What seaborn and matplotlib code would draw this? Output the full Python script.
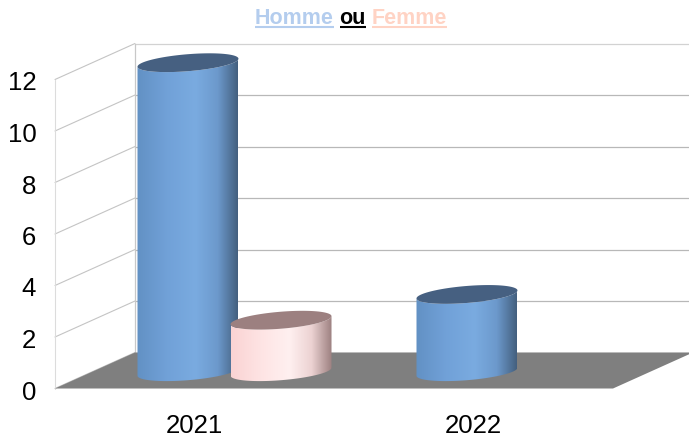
import numpy as np
import pandas as pd
import matplotlib
matplotlib.use('Agg')
import matplotlib.pyplot as plt
from matplotlib.colors import LinearSegmentedColormap
from matplotlib.lines import Line2D
from matplotlib.patches import Polygon
from matplotlib.transforms import ScaledTranslation
import seaborn as sns

years = ['2021', '2022']
homme = [12, 3]
femme = [2, 0]
y_ticks = [0, 2, 4, 6, 8, 10, 12]
title_words = ['Homme', 'ou', 'Femme']
title_colors = ['#b4cdee', '#000000', '#ffd3c4']

sns.set_theme(style='white')
plt.rcParams['font.family'] = ['Liberation Sans', 'DejaVu Sans']

W, H = 689, 441
fig = plt.figure(figsize=(W / 100, H / 100), dpi=100)
# l'axe correspond au plan avant du graphique 3D
ax = fig.add_axes([55 / W, (H - 388.5) / H, 558 / W, 309 / H])

df = pd.DataFrame({
    'annee': years * 2,
    'n': homme + femme,
    'sexe': ['Homme'] * 2 + ['Femme'] * 2,
})
sns.barplot(data=df, x='annee', y='n', hue='sexe', palette=['#7aabe0', '#fff0f0'],
            width=0.667, gap=-0.085, legend=False, ax=ax)

ax.set_xlim(-0.5, 1.5)
ax.set_ylim(0, 12)
px_x = 279.0   # pixels par categorie
px_y = 25.75   # pixels par unite
dx, dy = 80 / px_x, 36 / px_y

ax.set_xlabel('')
ax.set_ylabel('')
ax.set_yticks(y_ticks)
ax.tick_params(axis='x', length=0, pad=18.5, labelsize=18.5, colors='black')
ax.tick_params(axis='y', length=0, pad=13.5, labelsize=18.5, colors='black')
sns.despine(ax=ax, left=True, bottom=True)

x0, x1 = -0.5, 1.5
# parois et grille
for v in y_ticks:
    col = '#d2d2d2' if v == 12 else '#b8b8b8'
    ax.plot([x0, x0 + dx], [v, v + dy], color='#c4c4c4', lw=0.8, clip_on=False, zorder=1)
    ax.plot([x0 + dx, x1 + dx], [v + dy, v + dy], color=col, lw=0.9, clip_on=False, zorder=1)
ax.plot([x0, x0], [0, 12], color='#dcdcdc', lw=0.8, clip_on=False, zorder=1)
ax.plot([x0 + dx, x0 + dx], [dy, 12 + dy], color='#c8c8c8', lw=0.9, clip_on=False, zorder=1)

# sol
ax.add_patch(Polygon([(x0, 0), (x1, 0), (x1 + dx, dy), (x0 + dx, dy)], closed=True,
                     fc='#7f7f7f', ec='none', clip_on=False, zorder=2))

ramps = [
    ['#6291c4', '#71a1d8', '#7aabe0', '#6c99cc', '#44607f'],
    ['#fad3d3', '#fee4e4', '#fff0f0', '#ecd2d2', '#9c8080'],
]
stops = [0, 0.3, 0.58, 0.8, 1]
tops = ['#466081', '#9c8080']


def ellipse(cx, cy, r, t):
    # ellipse cisaillee, comme la perspective de l'original
    return np.column_stack([
        cx + r * np.cos(t),
        cy + (4 / px_y) * np.cos(t) + (8.5 / px_y) * np.sin(t),
    ])


z = 3
for cont, ramp, top in zip(ax.containers, ramps, tops):
    cmap = LinearSegmentedColormap.from_list('c', list(zip(stops, ramp)))
    for bar in cont:
        val = bar.get_height()
        bar.set_visible(False)
        if not val > 0:
            continue
        r = bar.get_width() / 2
        cx = bar.get_x() + r + dx / 2
        base = dy / 2 - 1.2 / px_y
        t_low = np.linspace(np.pi, 2 * np.pi, 80)
        t_all = np.linspace(0, 2 * np.pi, 160)
        lo = ellipse(cx, base, r, t_low)
        up = ellipse(cx, base + val, r, t_low)
        body = Polygon(np.vstack([lo, up[::-1]]), closed=True, fc='none', ec='none',
                       clip_on=False, zorder=z)
        ax.add_patch(body)
        im = ax.imshow(np.linspace(0, 1, 256)[None, :], cmap=cmap, aspect='auto',
                       extent=[cx - r, cx + r, base - 1, base + val + 1], zorder=z)
        im.set_clip_box(fig.bbox)
        im.set_clip_path(body)
        ax.add_patch(Polygon(ellipse(cx, base + val, r, t_all), closed=True, fc=top,
                             ec='none', clip_on=False, zorder=z + 0.5))
        z += 1

ax.set_xlim(x0, x1)
ax.set_ylim(0, 12)

# libelles un peu plus bas, comme l'original
for lab in ax.get_yticklabels():
    lab.set_transform(lab.get_transform() + ScaledTranslation(0, -1.5 / 100, fig.dpi_scale_trans))

# titre souligne en trois couleurs
fig.canvas.draw()
rend = fig.canvas.get_renderer()
fs = 15.5
probe = [fig.text(0, 0, w, fontsize=fs, fontweight='bold') for w in title_words]
widths = [p.get_window_extent(rend).width for p in probe]
for p in probe:
    p.remove()
space = 0.278 * fs * 100 / 72
x = 351 - (sum(widths) + 2 * space) / 2
for word, col, w in zip(title_words, title_colors, widths):
    fig.text(x / W, 1 - 24 / H, word, color=col, fontsize=fs, fontweight='bold',
             ha='left', va='baseline')
    fig.add_artist(Line2D([x / W, (x + w) / W], [1 - 27 / H] * 2, color=col, lw=1.5,
                          solid_capstyle='butt'))
    x += w + space

fig.savefig('out.png', dpi=100)
